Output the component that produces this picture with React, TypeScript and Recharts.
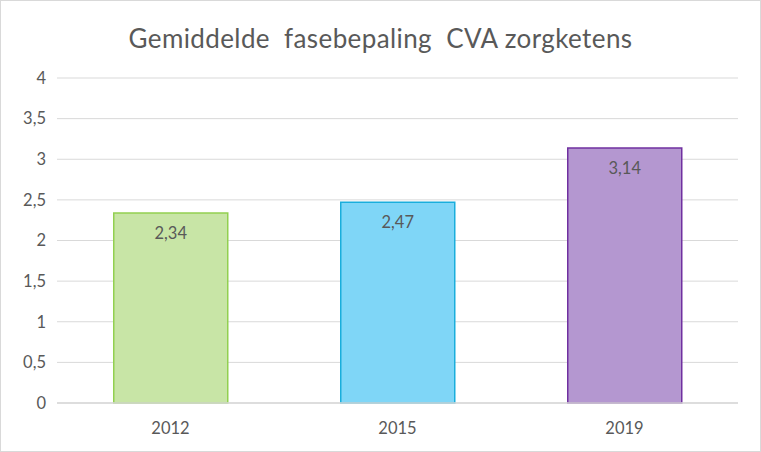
import { BarChart, Bar, XAxis, YAxis, CartesianGrid, Cell, LabelList } from "recharts";

const years = ["2012", "2015", "2019"];
const averages = [2.34, 2.47, 3.14];
const yTicks = [0, 0.5, 1, 1.5, 2, 2.5, 3, 3.5, 4];
const fills = ["#c8e5a6", "#7fd6f7", "#b497d0"];
const strokes = ["#92d050", "#1aaedc", "#7030a0"];

const data = years.map((year, i) => ({ year, value: averages[i] }));

const fmt = (v: number) => String(v).replace(".", ",");
const font = "Lato, 'Open Sans', sans-serif";

export default function App() {
  return (
    <div
      style={{
        position: "fixed",
        top: 0,
        left: 0,
        width: 759,
        height: 450,
        border: "1px solid #d9d9d9",
        background: "#fff",
        fontFamily: font,
      }}
    >
      <div
        style={{
          position: "absolute",
          top: 21,
          width: "100%",
          textAlign: "center",
          fontSize: 26,
          color: "#595959",
          whiteSpace: "pre",
          letterSpacing: 0.4,
        }}
      >
        {"Gemiddelde  fasebepaling  CVA zorgketens"}
      </div>
      <BarChart
        width={759}
        height={450}
        data={data}
        margin={{ top: 77, right: 22, bottom: 18, left: 0 }}
        barCategoryGap="25%"
      >
        <CartesianGrid vertical={false} stroke="#d9d9d9" />
        <XAxis
          dataKey="year"
          height={30}
          axisLine={{ stroke: "#d9d9d9", strokeWidth: 1.5 }}
          tickLine={false}
          tickMargin={13}
          tick={{ fill: "#595959", fontSize: 16.5, fontFamily: font }}
        />
        <YAxis
          width={56}
          domain={[0, 4]}
          ticks={yTicks}
          tickFormatter={fmt}
          axisLine={false}
          tickLine={false}
          tickSize={0}
          tickMargin={11}
          tick={{ fill: "#595959", fontSize: 16.5, fontFamily: font }}
        />
        <Bar dataKey="value" isAnimationActive={false} strokeWidth={1.5}>
          {data.map((d, i) => (
            <Cell key={d.year} fill={fills[i]} stroke={strokes[i]} />
          ))}
          <LabelList
            dataKey="value"
            position="insideTop"
            offset={14}
            formatter={(v: any) => fmt(v)}
            style={{ fill: "#595959", fontSize: 16.5, fontFamily: font }}
          />
        </Bar>
      </BarChart>
    </div>
  );
}
